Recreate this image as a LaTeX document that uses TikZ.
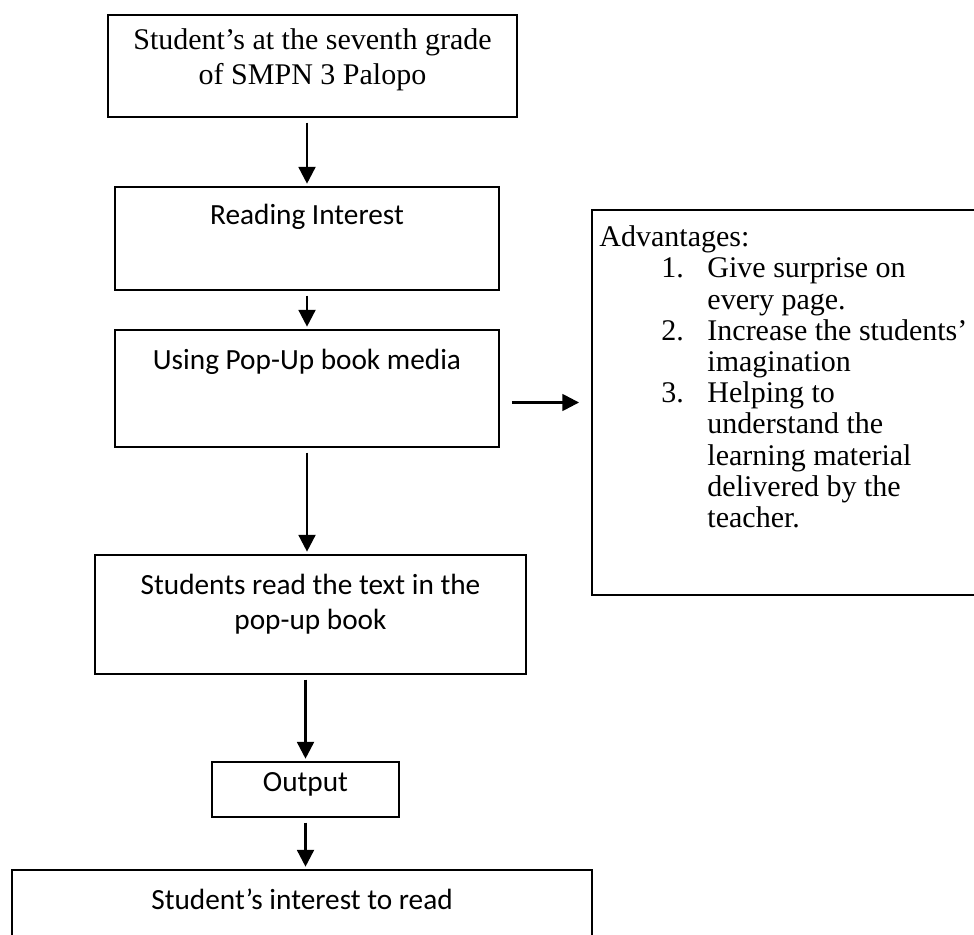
\documentclass[tikz,border=0pt]{standalone}
\usepackage{fontspec}
\setmainfont{Liberation Serif}
\newfontfamily\calibri{Carlito}
\usetikzlibrary{arrows.meta}

\begin{document}
\begin{tikzpicture}[x=0.41667pt, y=-0.41667pt,
    box/.style={draw, line width=0.75pt, inner sep=0pt},
    sanstxt/.style={font=\calibri\fontsize{12.2}{14.6}\selectfont, align=center, inner sep=0pt, anchor=north},
    seriftxt/.style={font=\fontsize{12.5}{14.6}\selectfont, align=center, inner sep=0pt, anchor=north},
    arr/.style={-{Triangle[width=7pt,length=7pt]}, line width=1.05pt, shorten <=2pt, shorten >=1pt}]
    \path[use as bounding box, clip] (0,0) rectangle (974,935);
    \node[box, minimum width=170.4pt, minimum height=42.5pt] (grade) at (312.5,66) {};
    \node[seriftxt] (gradetxt) at ([yshift=-6pt]grade.north) {Student’s at the seventh grade\\of SMPN 3 Palopo};
    \node[box, minimum width=160pt, minimum height=42.9pt] (reading) at (307,238.5) {};
    \node[sanstxt] (readingtxt) at ([yshift=-7.5pt]reading.north) {Reading Interest};
    \node[box, minimum width=160pt, minimum height=48.75pt] (popup) at (307,388.5) {};
    \node[sanstxt] (popuptxt) at ([yshift=-8pt]popup.north) {Using Pop-Up book media};
    \node[box, minimum width=179.6pt, minimum height=49.6pt] (readbook) at (310.5,614.5) {};
    \node[sanstxt] (readbooktxt) at ([yshift=-8pt]readbook.north) {Students read the text in the\\pop-up book};
    \node[box, minimum width=77.9pt, minimum height=22.9pt] (output) at (305.5,789.5) {};
    \node[sanstxt] (outputtxt) at ([yshift=-4.6pt]output.north) {Output};
    \node[box, minimum width=241.7pt, minimum height=50pt] (interest) at (302,930) {};
    \node[sanstxt] (interesttxt) at ([yshift=-8pt]interest.north) {Student’s interest to read};
    \node[box, minimum width=186.7pt, minimum height=160.4pt] (adv) at (816,402.5) {};
    \node[anchor=north west, inner sep=0pt, font=\fontsize{12.5}{13}\selectfont] (advtxt) at ([xshift=3.3pt, yshift=-6.4pt]adv.north west) {%
        \begin{tabular}{@{}p{25.8pt}@{}p{19.2pt}@{}l@{}}
        \multicolumn{3}{@{}l@{}}{Advantages:}\\
        & 1. & Give surprise on\\
        & & every page.\\
        & 2. & Increase the students’\\
        & & imagination\\
        & 3. & Helping to\\
        & & understand the\\
        & & learning material\\
        & & delivered by the\\
        & & teacher.
        \end{tabular}};
    \draw[arr] (grade.south -| reading.north) -- (reading.north);
    \draw[arr] (reading.south) -- (popup.north);
    \draw[arr] (popup.south) -- (popup.south |- readbook.north);
    \draw[arr] (readbook.south -| output.north) -- (output.north);
    \draw[arr] (output.south) -- (output.south |- interest.north);
    \draw[arr, shorten <=5pt, shorten >=5pt] (popup.east |- adv.west) -- (adv.west);
\end{tikzpicture}
\end{document}
